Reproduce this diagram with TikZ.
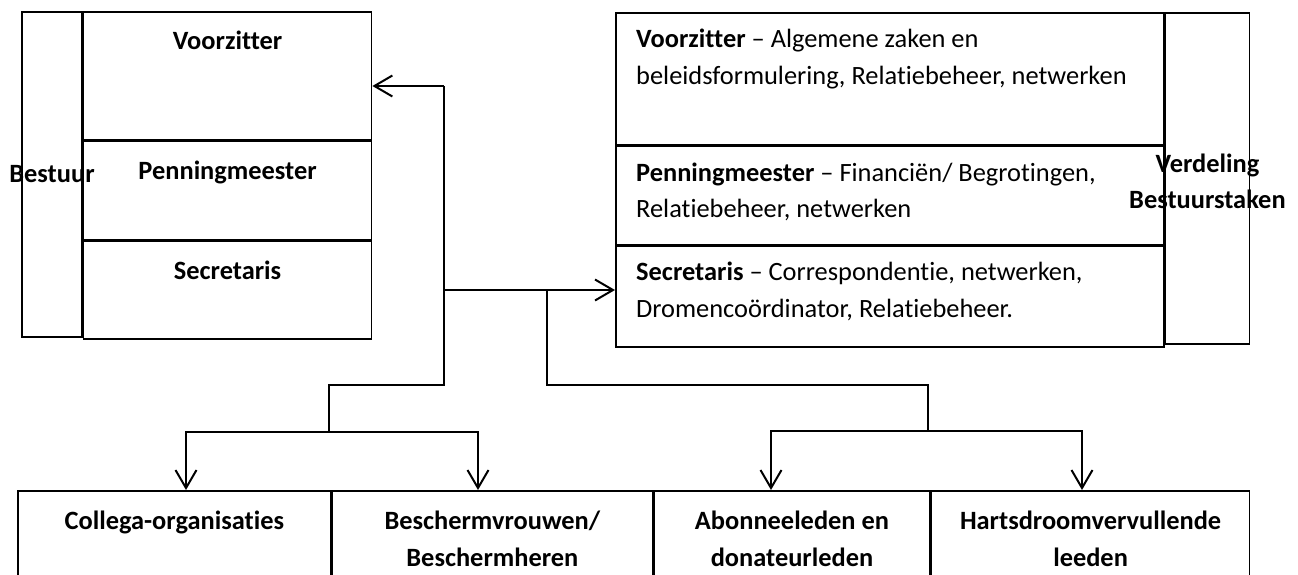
\documentclass[tikz,border=0pt]{standalone}
\usepackage{fontspec}
\setmainfont{Carlito}[Ligatures={TeX,NoCommon}]
\usepackage{tikz}
\usetikzlibrary{arrows.meta,positioning}

\begin{document}
\fontsize{26.4}{36.6}\selectfont
\begin{tikzpicture}[
  x=1pt, y=-1pt,
  vak/.style={draw, line width=1.6pt, inner sep=0pt},
  kop/.style={font=\bfseries, align=center, inner sep=0pt},
  tekst/.style={align=left, inner sep=0pt},
  lijn/.style={line width=2pt},
  pijl/.style={line width=2pt, -{Straight Barb[length=18pt, width=21pt]}}
]
  \clip (0,0) rectangle (1298,574);

  \node[vak, minimum width=60pt, minimum height=325pt] (bestuur) at (52,174.5) {};
  \node[vak, minimum width=288pt, minimum height=128pt, anchor=north west] (vz) at (bestuur.north east) {};
  \node[vak, minimum width=288pt, minimum height=98pt, below=0pt of vz] (pm) {};
  \node[vak, minimum width=288pt, minimum height=98pt, below=0pt of pm] (sec) {};
  \node[kop] (bestuurtekst) at (bestuur) {Bestuur};
  \node[kop, below=20pt of vz.north] (vztekst) {Voorzitter};
  \node[kop, below=20pt of pm.north] (pmtekst) {Penningmeester};
  \node[kop, below=20pt of sec.north] (sectekst) {Secretaris};

  \node[vak, minimum width=548pt, minimum height=132pt, anchor=north west] (taakvz) at (615,12) {};
  \node[vak, minimum width=548pt, minimum height=98pt, below=0pt of taakvz] (taakpm) {};
  \node[vak, minimum width=548pt, minimum height=101pt, below=0pt of taakpm] (taaksec) {};
  \node[vak, minimum width=84pt, minimum height=331pt, anchor=north west] (verdeling) at (taakvz.north east) {};
  \node[kop, yshift=-3pt] (verdelingtekst) at (verdeling) {Verdeling\\Bestuurstaken};
  \node[tekst, below right=17pt and 21pt of taakvz.north west] (taakvztekst)
    {\textbf{Voorzitter} – Algemene zaken en\\beleidsformulering, Relatiebeheer, netwerken};
  \node[tekst, below right=17pt and 21pt of taakpm.north west] (taakpmtekst)
    {\textbf{Penningmeester} – Financiën/ Begrotingen,\\Relatiebeheer, netwerken};
  \node[tekst, below right=17pt and 21pt of taaksec.north west] (taaksectekst)
    {\textbf{Secretaris} – Correspondentie, netwerken,\\Dromencoördinator, Relatiebeheer.};

  \node[vak, minimum width=313pt, minimum height=110pt, anchor=north west] (collega) at (17,490) {};
  \node[vak, minimum width=320pt, minimum height=110pt, right=0pt of collega] (bescherm) {};
  \node[vak, minimum width=276pt, minimum height=110pt, right=0pt of bescherm] (abonnee) {};
  \node[vak, minimum width=318pt, minimum height=110pt, right=0pt of abonnee] (hart) {};
  \node[kop, below=21pt of collega.north] (collegatekst) {Collega-organisaties};
  \node[kop, below=21pt of bescherm.north] (beschermtekst) {Beschermvrouwen/\\Beschermheren};
  \node[kop, below=21pt of abonnee.north] (abonneetekst) {Abonneeleden en\\donateurleden};
  \node[kop, below=21pt of hart.north] (harttekst) {Hartsdroomvervullende\\leeden};

  \coordinate (stam) at (444,86);
  \coordinate (knik) at (444,290);
  \coordinate (tak) at (547,290);
  \coordinate (bochtl) at (329,385);
  \coordinate (bochtr) at (928,385);
  \coordinate (splitl) at (329,432);
  \coordinate (splitr) at (928,431);
  \coordinate (p1) at (186,432);
  \coordinate (p2) at (478,432);
  \coordinate (p3) at (771,431);
  \coordinate (p4) at (1082,431);

  \draw[pijl] (stam) -- (stam -| vz.east);
  \draw[lijn] (stam) |- (bochtl) -- (splitl);
  \draw[pijl] (knik) -- (knik -| taaksec.west);
  \draw[lijn] (tak) |- (bochtr) -- (splitr);
  \draw[pijl] (splitl) -| (p1 |- collega.north);
  \draw[pijl] (splitl) -| (p2 |- bescherm.north);
  \draw[pijl] (splitr) -| (p3 |- abonnee.north);
  \draw[pijl] (splitr) -| (p4 |- hart.north);
\end{tikzpicture}
\end{document}
